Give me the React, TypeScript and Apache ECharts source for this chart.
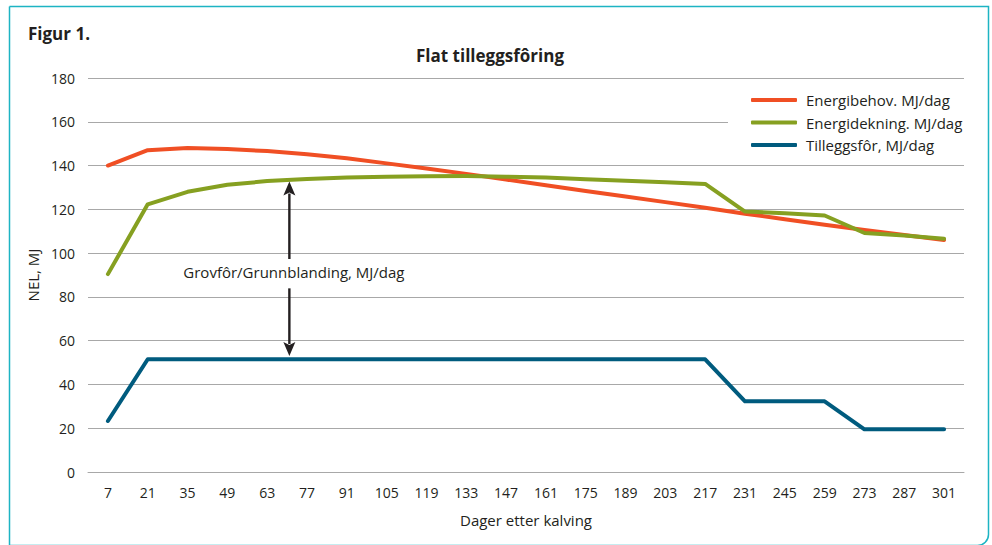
import React, { useEffect, useRef } from "react";
import * as echarts from "echarts";

// Days after calving (category axis)
const days = [7, 21, 35, 49, 63, 77, 91, 105, 119, 133, 147, 161, 175, 189, 203, 217, 231, 245, 259, 273, 287, 301];

// Energy requirement, MJ/day
const energibehov = [140, 147, 148, 147.6, 146.6, 145.2, 143.3, 141, 138.7, 136.2, 133.6, 131, 128.4, 125.9, 123.3, 120.7, 118, 115.5, 113, 110.6, 108.3, 106];
// Energy covered, MJ/day
const energidekning = [90.4, 122.3, 128, 131.2, 132.9, 133.9, 134.5, 134.9, 135.1, 135.2, 134.9, 134.5, 133.8, 133.1, 132.4, 131.6, 119, 118.2, 117.2, 109.2, 108, 106.6];
// Concentrate, MJ/day
const tilleggsfor = [23.3, 51.5, 51.5, 51.5, 51.5, 51.5, 51.5, 51.5, 51.5, 51.5, 51.5, 51.5, 51.5, 51.5, 51.5, 51.5, 32.3, 32.3, 32.3, 19.5, 19.5, 19.5];

const seriesNames = ["Energibehov. MJ/dag", "Energidekning. MJ/dag", "Tilleggsfôr, MJ/dag"];
const seriesColors = ["#f04f24", "#86a021", "#005b7e"];

// Annotation arrows on a day scale: [day, from value, to value (tip)]
const arrows = [
  [70.8, 97.3, 132.7],
  [70.8, 83.9, 53.0],
];
// Annotation text: [day, value, text]
const notes: [number, number, string][] = [[72.4, 91.4, "Grovfôr/Grunnblanding, MJ/dag"]];

const FONT = "'Open Sans'";
const TEXT = "#231f20";
const GRID = "#a8a8a8";

export default function App() {
  const ref = useRef<HTMLDivElement>(null);

  useEffect(() => {
    if (!ref.current) return;
    const chart = echarts.init(ref.current, undefined, { renderer: "svg" });

    const lineSeries = [energibehov, energidekning, tilleggsfor].map((d, i) => ({
      name: seriesNames[i],
      type: "line",
      data: d,
      symbol: "none",
      z: 3 + (i === 1 ? 1 : 0),
      lineStyle: { color: seriesColors[i], width: 4, cap: "round", join: "round" },
      itemStyle: { color: seriesColors[i] },
    }));

    chart.setOption({
      animation: false,
      textStyle: { fontFamily: FONT, color: TEXT },
      grid: { left: 88, right: 28, top: 78, bottom: 73 },
      graphic: [
        {
          type: "rect",
          silent: true,
          shape: { x: 9.5, y: 6.5, width: 979, height: 539, r: [0, 0, 11, 0] },
          style: { fill: "none", stroke: "#1db4c3", lineWidth: 1.5 },
        },
        {
          type: "text",
          x: 28,
          y: 33,
          style: { text: "Figur 1.", font: `bold 17px ${FONT}`, fill: TEXT, textVerticalAlign: "middle" },
        },
        {
          type: "text",
          x: 490,
          y: 55,
          style: {
            text: "Flat tilleggsfôring",
            font: `bold 17px ${FONT}`,
            fill: TEXT,
            textAlign: "center",
            textVerticalAlign: "middle",
          },
        },
      ],
      legend: {
        data: seriesNames,
        orient: "vertical",
        left: 728,
        top: 85,
        padding: [6, 22, 6, 23],
        backgroundColor: "#ffffff",
        icon: "roundRect",
        itemWidth: 46,
        itemHeight: 4,
        itemGap: 4.5,
        textStyle: { fontFamily: FONT, fontSize: 15, color: TEXT, lineHeight: 18, padding: [0, 0, 0, 4] },
        z: 10,
      },
      xAxis: [
        {
          type: "category",
          data: days.map(String),
          boundaryGap: true,
          name: "Dager etter kalving",
          nameLocation: "middle",
          nameGap: 40,
          nameTextStyle: { fontFamily: FONT, fontSize: 15, color: TEXT },
          axisLine: { show: true, lineStyle: { color: GRID, width: 1 } },
          axisTick: { show: false },
          axisLabel: { fontFamily: FONT, fontSize: 14, color: TEXT, margin: 13 },
        },
        { type: "value", min: 0, max: 308, show: false },
      ],
      yAxis: {
        type: "value",
        min: 0,
        max: 180,
        interval: 20,
        name: "NEL, MJ",
        nameLocation: "middle",
        nameGap: 47,
        nameTextStyle: { fontFamily: FONT, fontSize: 15, color: TEXT },
        axisLine: { show: false },
        axisTick: { show: false },
        axisLabel: { fontFamily: FONT, fontSize: 14, color: TEXT, margin: 13 },
        splitLine: { lineStyle: { color: GRID, width: 1 } },
      },
      series: [
        ...lineSeries,
        {
          type: "custom",
          xAxisIndex: 1,
          yAxisIndex: 0,
          z: 6,
          silent: true,
          clip: false,
          data: arrows,
          encode: { x: 0, y: [1, 2] },
          renderItem: (_params: any, api: any) => {
            const from = api.coord([api.value(0), api.value(1)]);
            const tip = api.coord([api.value(0), api.value(2)]);
            const dir = tip[1] < from[1] ? -1 : 1;
            const headLen = 14;
            const headHalf = 6;
            const base = tip[1] - dir * headLen;
            return {
              type: "group",
              children: [
                {
                  type: "line",
                  shape: { x1: from[0], y1: from[1], x2: tip[0], y2: base + dir * 2 },
                  style: { stroke: TEXT, lineWidth: 2.4 },
                },
                {
                  type: "polygon",
                  shape: {
                    points: [
                      [tip[0], tip[1]],
                      [tip[0] - headHalf, base],
                      [tip[0], base + dir * 3],
                      [tip[0] + headHalf, base],
                    ],
                  },
                  style: { fill: TEXT },
                },
              ],
            };
          },
        },
        {
          type: "custom",
          xAxisIndex: 1,
          yAxisIndex: 0,
          z: 6,
          silent: true,
          clip: false,
          data: notes.map((n) => [n[0], n[1]]),
          renderItem: (params: any, api: any) => {
            const p = api.coord([api.value(0), api.value(1)]);
            return {
              type: "text",
              x: p[0],
              y: p[1],
              style: {
                text: notes[params.dataIndex][2],
                font: `15px ${FONT}`,
                fill: TEXT,
                textAlign: "center",
                textVerticalAlign: "middle",
              },
            };
          },
        },
      ],
    });

    return () => chart.dispose();
  }, []);

  return (
    <div
      ref={ref}
      style={{ position: "fixed", left: 0, top: 0, width: 992, height: 545, background: "#ffffff" }}
    />
  );
}
